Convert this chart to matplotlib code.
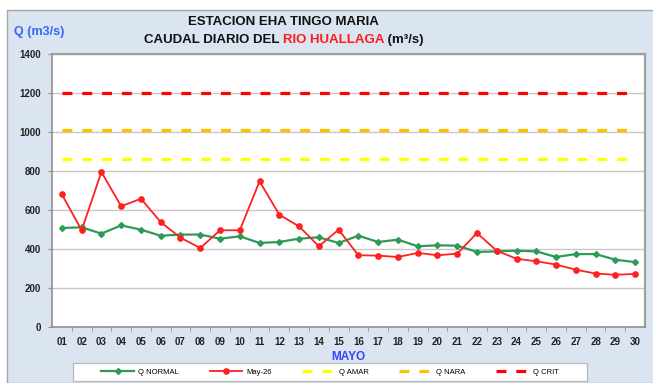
import numpy as np
import matplotlib.pyplot as plt
from matplotlib.patches import Rectangle

plt.rcParams['font.family'] = ['Liberation Sans', 'DejaVu Sans']

# caudales diarios, mayo
dias = ["%02d" % d for d in range(1, 31)]
q_normal = [508, 511, 479, 521, 499, 468, 474, 474, 453, 465,
            431, 436, 453, 460, 431, 468, 436, 448, 414, 419,
            417, 385, 388, 391, 388, 359, 374, 374, 345, 333]
q_may26 = [680, 496, 795, 619, 658, 538, 458, 405, 496, 496,
           747, 576, 516, 414, 499, 368, 366, 359, 380, 368,
           376, 482, 391, 350, 337, 320, 294, 274, 268, 272]
umbrales = {"Q AMAR": 860, "Q NARA": 1010, "Q CRIT": 1200}
colores_umbral = {"Q AMAR": "#ffff00", "Q NARA": "#ffc000", "Q CRIT": "#ff0000"}

W, H = 653, 383
fig = plt.figure(figsize=(W / 100, H / 100), dpi=100)
fig.patch.set_facecolor("white")
fondo = Rectangle((7 / W, 0), 1, (H - 10) / H, transform=fig.transFigure,
                  facecolor="#dbe5f1", edgecolor="#a6a6a6", lw=1.0, zorder=-10)
fig.patches.append(fondo)
# marco de la leyenda
marco = Rectangle((73 / W, 2 / H), (587 - 73) / W, 18 / H, transform=fig.transFigure,
                  facecolor="white", edgecolor="#b8b8b8", lw=0.9, zorder=-5)
fig.patches.append(marco)

ax = fig.add_axes([52 / W, (H - 327) / H, (645 - 52) / W, (327 - 54) / H])
ax.set_facecolor("white")
x = np.arange(len(dias))

ax.plot(x, q_normal, color="#2e9a55", lw=1.6, marker="D", ms=3,
        label="Q NORMAL", zorder=4)
ax.plot(x, q_may26, color="#ff2020", lw=1.3, marker="o", ms=3.8,
        label="May-26", zorder=5)
for nombre, valor in umbrales.items():
    ax.plot(x, [valor] * len(x), color=colores_umbral[nombre], lw=2.3,
            dashes=(3.1, 3.1), label=nombre, zorder=3)

ax.set_xlim(-0.5, len(dias) - 0.5)
ax.set_ylim(0, 1400)
ax.set_yticks(range(0, 1401, 200))
ax.yaxis.grid(True, color="#c8c8c8", lw=1.0)
ax.set_axisbelow(True)

ax.set_xticks(x)
ax.set_xticklabels(dias, fontsize=7, fontweight="bold", color="#222222")
ax.set_xticks(x[:-1] + 0.5, minor=True)
ax.tick_params(axis="x", which="major", length=0, pad=7)
ax.tick_params(axis="x", which="minor", length=3, color="#909090")
ax.tick_params(axis="y", length=3, color="#909090", labelsize=7, pad=5)
for lab in ax.get_yticklabels():
    lab.set_fontweight("bold")
    lab.set_color("#222222")
for lado in ["left", "bottom"]:
    ax.spines[lado].set_color("#909090")
    ax.spines[lado].set_linewidth(1.2)
for lado in ["right", "top"]:
    ax.spines[lado].set_color("#a0a0a0")
    ax.spines[lado].set_linewidth(1.6)

ax.set_xlabel("MAYO", fontsize=8.5, fontweight="bold", color="#3344ff", labelpad=3)

# titulo en dos lineas, la segunda con el nombre del rio en rojo
fs_tit = 9.5
fig.text(283 / W, 1 - 22 / H, "ESTACION EHA TINGO MARIA", ha="center", va="center",
         fontsize=fs_tit, fontweight="bold", color="#111111")
partes = [("CAUDAL DIARIO DEL ", "#111111"), ("RIO HUALLAGA", "#ff1a1a"),
          (" (m\u00b3/s)", "#111111")]
textos = [fig.text(0, 1 - 40 / H, s, va="center", fontsize=fs_tit,
                   fontweight="bold", color=c) for s, c in partes]
fig.canvas.draw()
r = fig.canvas.get_renderer()
anchos = [t.get_window_extent(r).width for t in textos]
x0 = 284 - sum(anchos) / 2
for t, a in zip(textos, anchos):
    t.set_x(x0 / W)
    x0 += a
fig.text(14 / W, 1 - 32 / H, "Q (m3/s)", ha="left", va="center",
         fontsize=9, fontweight="bold", color="#3366ff")

leg = fig.legend(loc="center", ncol=5, bbox_to_anchor=(330 / W, 11 / H),
                 fontsize=5.5, handlelength=4.3, frameon=False,
                 handletextpad=0.5, columnspacing=4.0)

fig.savefig("out.png", dpi=100)
